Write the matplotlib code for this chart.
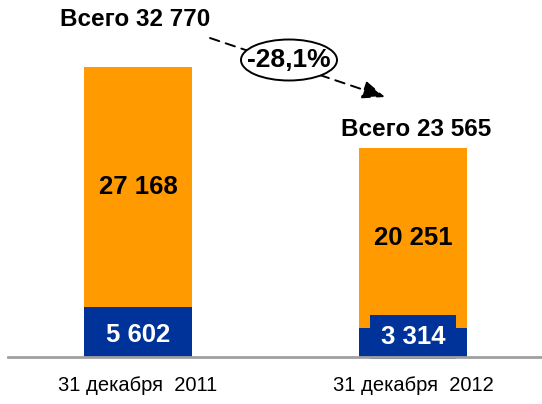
import matplotlib
matplotlib.use("Agg")
import matplotlib.pyplot as plt
from matplotlib.patches import Ellipse

categories = ["31 декабря  2011", "31 декабря  2012"]
blue_vals = [5602, 3314]
orange_vals = [27168, 20251]
totals = [32770, 23565]
change_label = "-28,1%"

plt.rcParams['font.family'] = ['Liberation Sans', 'DejaVu Sans']

ORANGE = "#FF9A00"
BLUE = "#003399"

fig = plt.figure(figsize=(5.42, 4.04), dpi=100)
ax = fig.add_axes([0, 47/404, 1, 357/404])
ax.set_xlim(-138/275, (542-138)/275)
ax.set_ylim(0, 357/0.00885)
ax.axis('off')

x = [0, 1]
w = 0.39
ax.bar(x, blue_vals, width=w, color=BLUE, zorder=2)
ax.bar(x, orange_vals, width=w, bottom=blue_vals, color=ORANGE, zorder=2)
ax.plot([-130/275, (542-138)/275], [0, 0], color="#A0A0A0", lw=2, zorder=6, clip_on=False)

def fmt(v):
    return f"{v:,}".replace(",", " ")

for i in x:
    ax.text(i, blue_vals[i] + orange_vals[i]/2, fmt(orange_vals[i]), ha='center', va='center',
            fontsize=18.5, fontweight='bold', color='black', zorder=4)
    if i == 0:
        ax.text(i, 2500, fmt(blue_vals[i]), ha='center', va='center',
                fontsize=18.5, fontweight='bold', color='white', zorder=4)
    else:
        ax.text(i, 2260, fmt(blue_vals[i]), ha='center', va='center',
                fontsize=18.5, fontweight='bold', color='white', zorder=4,
                bbox=dict(boxstyle='square,pad=0.4', fc=BLUE, ec='none'))
    ax.text(i, -3200, categories[i], ha='center', va='center', fontsize=14.5, color='black')

ax.text(-0.01, 38100, "Всего " + fmt(totals[0]), ha='center', va='center', fontsize=17.5, fontweight='bold')
ax.text(1.01, 25750, "Всего " + fmt(totals[1]), ha='center', va='center', fontsize=17.5, fontweight='bold')

ax.annotate("", xy=((385-138)/275, (357-97)/0.00885), xytext=((210-138)/275, (357-38)/0.00885),
            arrowprops=dict(arrowstyle='-|>,head_length=0.55,head_width=0.22', linestyle=(0, (5, 3.5)),
                            color='black', lw=1.4, mutation_scale=25, shrinkA=0, shrinkB=0), zorder=3)
ex, ey = (289-138)/275, (357-60)/0.00885
ax.add_patch(Ellipse((ex, ey), 96/275, 41/0.00885, fc='white', ec='black', lw=1.4, zorder=4))
ax.text(ex, ey, change_label, ha='center', va='center', fontsize=19, fontweight='bold', zorder=5)

fig.savefig("out.png", dpi=100)
